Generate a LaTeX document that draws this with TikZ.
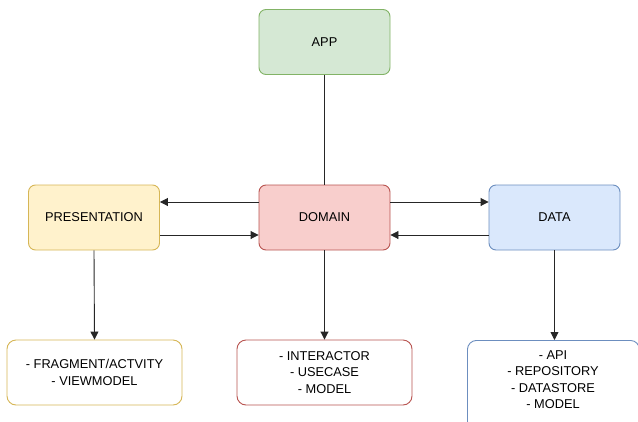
\documentclass[tikz,border=0pt]{standalone}
\usepackage{fontspec}
\setmainfont{Liberation Sans}
\usetikzlibrary{arrows.meta}
\definecolor{gfill}{HTML}{D5E8D4}\definecolor{gline}{HTML}{82B366}
\definecolor{rfill}{HTML}{F8CECC}\definecolor{rline}{HTML}{B85450}
\definecolor{yfill}{HTML}{FFF2CC}\definecolor{yline}{HTML}{D6B656}
\definecolor{bfill}{HTML}{DAE8FC}\definecolor{bline}{HTML}{6C8EBF}
\tikzset{
  layer/.style={draw, rounded corners=7pt, line width=0.9pt, minimum width=131pt,
    minimum height=65pt, inner sep=0pt, font=\fontsize{12.8}{15}\selectfont, align=center},
  detail/.style={draw, fill=white, rounded corners=9pt, line width=0.9pt, minimum width=175pt,
    minimum height=65pt, inner sep=0pt, font=\fontsize{12.8}{16.5}\selectfont, align=center},
  link/.style={line width=0.9pt, draw=black!85},
  flow/.style={link, -{Triangle[length=8pt,width=8pt]}},
}
\begin{document}
\begin{tikzpicture}[x=1pt,y=-1pt]
\useasboundingbox (0,0) rectangle (638,421);
\clip (0,0) rectangle (638,421);
% layer boxes
\node[layer, fill=gfill, draw=gline] (app) at (324.5,42) {APP};
\node[layer, fill=rfill, draw=rline] (domain) at (324.5,217.5) {DOMAIN};
\node[layer, fill=yfill, draw=yline] (pres) at (94,217.5) {PRESENTATION};
\node[layer, fill=bfill, draw=bline] (data) at (554.5,217.5) {DATA};
% detail boxes
\node[detail, draw=yline] (presd) at (94.5,372.5) {- FRAGMENT/ACTVITY\\- VIEWMODEL};
\node[detail, draw=rline] (domd) at (324.5,372.5) {- INTERACTOR\\- USECASE\\- MODEL};
\node[detail, draw=bline, minimum width=172pt, minimum height=90pt, anchor=north west] (datad) at (467,340) {};
\node[font=\fontsize{12.8}{16.5}\selectfont, align=center, anchor=north] at (553,347) {- API\\- REPOSITORY\\- DATASTORE\\- MODEL};
% connectors
\draw[link] (app.south) -- (domain.north);
\draw[flow] ([yshift=15.5pt]domain.west) -- ([yshift=15.5pt]pres.east);
\draw[flow] ([yshift=-17.5pt]pres.east) -- ([yshift=-17.5pt]domain.west);
\draw[flow] ([yshift=15.5pt]domain.east) -- ([yshift=15.5pt]data.west);
\draw[flow] ([yshift=-17.5pt]data.west) -- ([yshift=-17.5pt]domain.east);
\draw[flow] (pres.south) -- (presd.north);
\draw[flow] (domain.south) -- (domd.north);
\draw[flow] (data.south) -- (data.south |- datad.north);
\end{tikzpicture}
\end{document}
